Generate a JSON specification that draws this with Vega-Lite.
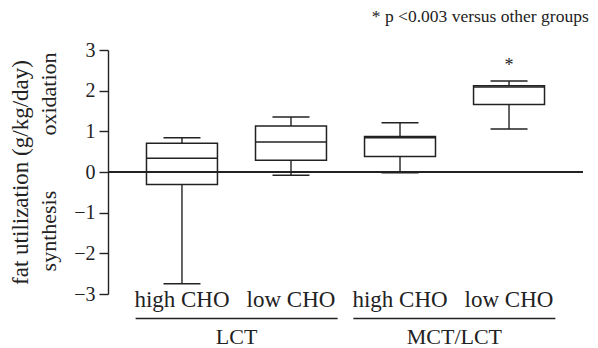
{
  "$schema": "https://vega.github.io/schema/vega-lite/v6.json",
  "width": 475,
  "height": 244,
  "autosize": {"type": "none"},
  "padding": {"left": 108, "top": 50, "right": 15, "bottom": 54},
  "title": {"text": "* p <0.003 versus other groups", "anchor": "end", "fontSize": 17.5, "fontWeight": "normal", "font": "Liberation Serif", "color": "#222", "offset": 15, "dx": 5},
  "config": {
    "font": "Liberation Serif",
    "view": {"stroke": null},
    "axis": {"grid": false, "labelFont": "Liberation Serif", "titleFont": "Liberation Serif", "labelColor": "#222", "titleColor": "#222", "titleFontWeight": "normal", "domainColor": "#222", "tickColor": "#222"},
    "axisY": {"labelFontSize": 20, "tickSize": 9, "labelPadding": 4, "domainWidth": 1.4, "tickWidth": 1.4}
  },
  "data": {
    "values": [
      {"diet": "LCT high CHO", "min": -2.75, "q1": -0.31, "median": 0.34, "q3": 0.71, "max": 0.84, "star": ""},
      {"diet": "LCT low CHO", "min": -0.08, "q1": 0.29, "median": 0.74, "q3": 1.13, "max": 1.35, "star": ""},
      {"diet": "MCT/LCT high CHO", "min": -0.02, "q1": 0.38, "median": 0.84, "q3": 0.87, "max": 1.21, "star": ""},
      {"diet": "MCT/LCT low CHO", "min": 1.06, "q1": 1.66, "median": 2.09, "q3": 2.12, "max": 2.24, "star": "*"}
    ]
  },
  "layer": [
    {
      "encoding": {
        "x": {
          "field": "diet", "type": "nominal", "sort": null, "title": null,
          "scale": {"paddingInner": 0.349, "paddingOuter": 0.353},
          "axis": {"labelExpr": "indexof(datum.label, 'high') >= 0 ? 'high CHO' : 'low CHO'", "labelAngle": 0, "domain": false, "ticks": false, "labelFontSize": 23, "labelBaseline": "alphabetic", "labelPadding": 12, "labelOverlap": false, "labelLimit": 300}
        }
      },
      "layer": [
        {
          "mark": {"type": "rule", "color": "#222", "strokeWidth": 1.4},
          "encoding": {
            "y": {"field": "min", "type": "quantitative", "title": null,
              "scale": {"domain": [-3, 3], "nice": false, "zero": false},
              "axis": {"values": [-3, -2, -1, 0, 1, 2, 3], "title": null}},
            "y2": {"field": "max"}
          }
        },
        {
          "mark": {"type": "bar", "fill": "white", "stroke": "#222", "strokeWidth": 1.5},
          "encoding": {
            "y": {"field": "q1", "type": "quantitative", "title": null},
            "y2": {"field": "q3"}
          }
        },
        {
          "mark": {"type": "tick", "size": 71, "thickness": 1.5, "color": "#222", "opacity": 1},
          "encoding": {"y": {"field": "median", "type": "quantitative", "title": null}}
        },
        {
          "mark": {"type": "tick", "size": 37, "thickness": 1.5, "color": "#222", "opacity": 1},
          "encoding": {"y": {"field": "min", "type": "quantitative", "title": null}}
        },
        {
          "mark": {"type": "tick", "size": 37, "thickness": 1.5, "color": "#222", "opacity": 1},
          "encoding": {"y": {"field": "max", "type": "quantitative", "title": null}}
        },
        {
          "mark": {"type": "text", "fontSize": 18, "color": "#222", "baseline": "alphabetic", "dy": -10},
          "encoding": {
            "y": {"field": "max", "type": "quantitative", "title": null},
            "text": {"field": "star"}
          }
        }
      ]
    },
    {
      "mark": {"type": "rule", "color": "#222", "strokeWidth": 1.4},
      "encoding": {
        "y": {"datum": 0, "type": "quantitative",
          "axis": {"orient": "left", "offset": 46, "domain": false, "ticks": false, "tickSize": 0, "values": [1.93, -1.44], "labelExpr": "datum.value > 0 ? 'oxidation' : 'synthesis'", "labelAngle": 270, "labelAlign": "center", "labelBaseline": "bottom", "labelFontSize": 22, "labelPadding": 2, "title": "fat utilization (g/kg/day)", "titleFontSize": 23, "titlePadding": 5}}
      }
    },
    {
      "data": {"values": [{"fat": "LCT"}, {"fat": "MCT/LCT"}]},
      "encoding": {
        "x": {"field": "fat", "type": "nominal", "sort": null, "scale": {"paddingInner": 0, "paddingOuter": 0.0907}, "axis": null}
      },
      "layer": [
        {
          "mark": {"type": "tick", "size": 202, "thickness": 1.5, "color": "#222", "opacity": 1},
          "encoding": {"y": {"datum": -3.6, "type": "quantitative", "axis": null}}
        },
        {
          "mark": {"type": "text", "fontSize": 22, "color": "#222", "baseline": "alphabetic"},
          "encoding": {"y": {"datum": -4.23, "type": "quantitative", "axis": null}, "text": {"field": "fat"}}
        }
      ]
    }
  ],
  "resolve": {"scale": {"x": "independent"}, "axis": {"y": "independent", "x": "independent"}}
}
